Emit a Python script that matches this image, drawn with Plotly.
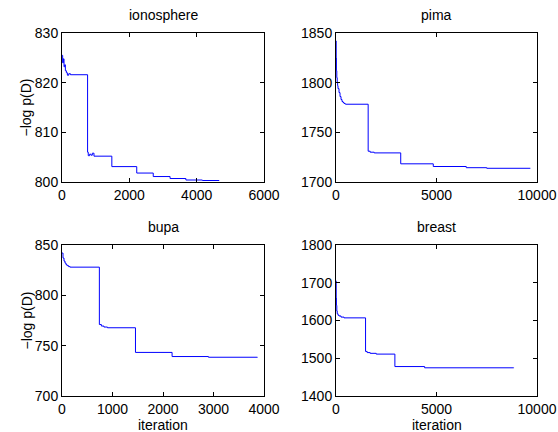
import plotly.graph_objects as go

W, H = 558, 432

# ---- data ----
iono_x = [0, 20, 40, 60, 80, 100, 130, 160, 200, 250, 760, 780, 820, 860, 900, 950, 1480, 2220, 2710, 3210, 3680, 4170, 4670]
iono_y = [825.5, 824.0, 824.8, 823.2, 823.6, 822.4, 822.0, 821.5, 821.8, 821.6, 806.0, 805.3, 805.6, 805.4, 805.8, 805.2, 803.1, 801.8, 801.1, 800.7, 800.4, 800.3, 800.3]

pima_x = [0, 10, 20, 40, 60, 80, 100, 150, 200, 250, 300, 350, 400, 450, 500, 1600, 1700, 1900, 3220, 4840, 6480, 7500, 9670]
pima_y = [1842, 1825, 1812, 1805, 1800, 1797, 1794, 1790, 1786, 1783, 1781, 1780, 1779, 1778.5, 1778.3, 1731, 1730, 1729.3, 1718.3, 1715.6, 1714.4, 1713.8, 1713.8]

bupa_x = [0, 20, 40, 60, 80, 100, 130, 160, 740, 780, 830, 900, 1455, 2180, 2900, 3870]
bupa_y = [842, 837, 834, 832, 830.5, 829.5, 828.5, 828, 771, 769.5, 768.5, 767.8, 743.3, 739.2, 738.5, 738.3]

breast_x = [0, 10, 20, 40, 60, 100, 150, 250, 400, 1470, 1550, 1700, 2000, 2930, 4410, 8840]
breast_y = [1705, 1660, 1640, 1625, 1618, 1614, 1612, 1609, 1607, 1518, 1515, 1513, 1511, 1478, 1474.7, 1474]

titles = ["ionosphere", "pima", "bupa", "breast"]
x_ranges = [[0, 6000], [0, 10000], [0, 4000], [0, 10000]]
x_ticks = [[0, 2000, 4000, 6000], [0, 5000, 10000], [0, 1000, 2000, 3000, 4000], [0, 5000, 10000]]
y_ranges = [[800, 830], [1700, 1850], [700, 850], [1400, 1800]]
y_ticks = [[800, 810, 820, 830], [1700, 1750, 1800, 1850], [700, 750, 800, 850], [1400, 1500, 1600, 1700, 1800]]
ylabel = "−log p(D)"
xlabel = "iteration"

series = [(iono_x, iono_y), (pima_x, pima_y), (bupa_x, bupa_y), (breast_x, breast_y)]

# ---- layout geometry (pixels) ----
xdoms_px = [(62, 264), (336, 537), (62, 264), (336, 537)]
ydoms_px = [(33, 182), (33, 182), (245, 396), (245, 396)]

FONT = "Liberation Sans, Arial, Helvetica, sans-serif"
fig = go.Figure()
annotations = []
layout = {}
for i, ((xs, ys), t) in enumerate(zip(series, titles)):
    n = "" if i == 0 else str(i + 1)
    fig.add_trace(go.Scatter(x=xs, y=ys, mode="lines", line=dict(color="#0000ff", width=1, shape="hv"),
                             xaxis="x" + n, yaxis="y" + n, showlegend=False, hoverinfo="skip"))
    x0, x1 = xdoms_px[i]
    yt, yb = ydoms_px[i]
    common = dict(showline=True, linecolor="black", linewidth=1, mirror="ticks", ticks="inside",
                  ticklen=4, tickcolor="black", showgrid=False, zeroline=False, automargin=False,
                  tickfont=dict(family=FONT, size=14, color="black"))
    layout["xaxis" + n] = dict(domain=[x0 / W, x1 / W], range=x_ranges[i], tickvals=x_ticks[i],
                               ticktext=[str(v) for v in x_ticks[i]], anchor="y" + n, **common)
    layout["yaxis" + n] = dict(domain=[1 - yb / H, 1 - yt / H], range=y_ranges[i], tickvals=y_ticks[i],
                               ticktext=[str(v) for v in y_ticks[i]], anchor="x" + n, **common)
    annotations.append(dict(text=t, x=(x0 + x1) / 2 / W, y=1 - (yt - 18) / H, xref="paper", yref="paper",
                            xanchor="center", yanchor="middle", showarrow=False,
                            font=dict(family=FONT, size=14, color="black")))
    if i in (0, 2):
        annotations.append(dict(text=ylabel, x=26 / W, y=1 - (yt + yb) / 2 / H, xref="paper", yref="paper",
                                xanchor="center", yanchor="middle", textangle=-90, showarrow=False,
                                font=dict(family=FONT, size=14, color="black")))
    if i in (2, 3):
        annotations.append(dict(text=xlabel, x=(x0 + x1) / 2 / W, y=1 - 425 / H, xref="paper", yref="paper",
                                xanchor="center", yanchor="middle", showarrow=False,
                                font=dict(family=FONT, size=14, color="black")))

fig.update_layout(width=W, height=H, margin=dict(l=0, r=0, t=0, b=0),
                  paper_bgcolor="white", plot_bgcolor="white", annotations=annotations, **layout)
fig.write_html("out.html", config={"displayModeBar": False, "staticPlot": True},
               post_script="document.body.style.margin='0';document.body.style.overflow='hidden';")
